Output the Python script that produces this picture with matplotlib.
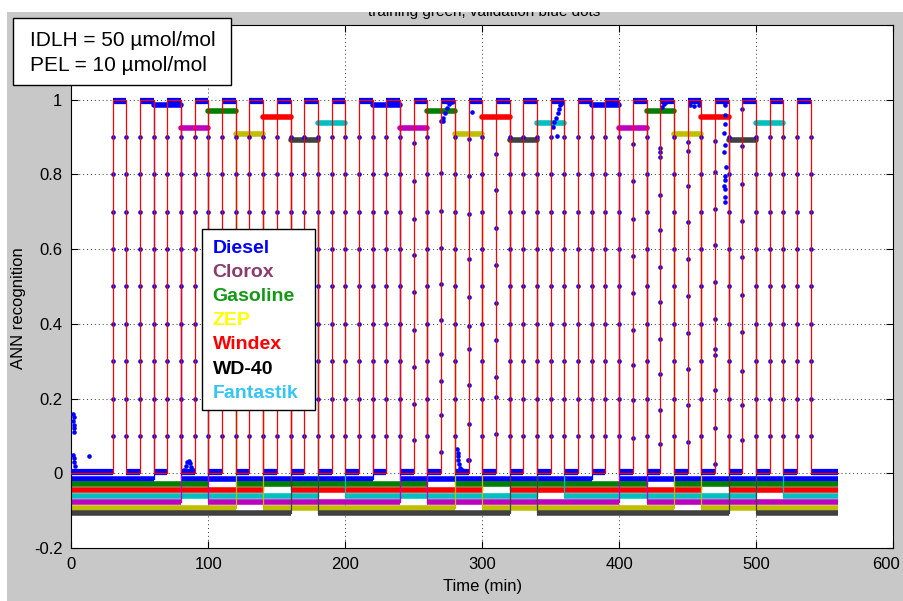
import matplotlib.pyplot as plt
from matplotlib.patches import Rectangle
from matplotlib.transforms import ScaledTranslation

plt.rcParams['font.family'] = ['Liberation Sans', 'DejaVu Sans']

# exposure pulses (min): target switches to 1 between start and end
pulse_start = [30, 50, 70, 90, 110, 130, 150, 170, 190, 210, 230, 250, 270,
               290, 310, 330, 350, 370, 390, 410, 430, 450, 470, 490, 510, 530]
pulse_end = [40, 60, 80, 100, 120, 140, 160, 180, 200, 220, 240, 260, 280,
             300, 320, 340, 360, 380, 400, 420, 440, 460, 480, 500, 520, 540]
t_end = 560

# analytes, legend colours, line colours, baseline offsets, windows where ANN says "present"
analytes = ['Diesel', 'Clorox', 'Gasoline', 'ZEP', 'Windex', 'WD-40', 'Fantastik']
label_colors = ['#0000ff', '#8b3a6e', '#139a13', '#ffff00', '#ff0000', '#000000', '#33c6f5']
line_colors = [(0, 0, 1), (0.75, 0, 0.75), (0, 0.5, 0), (0.75, 0.75, 0),
               (1, 0, 0), (0.25, 0.25, 0.25), (0, 0.75, 0.75)]
offsets = [-0.015, -0.076, -0.030, -0.092, -0.046, -0.107, -0.061]
draw_order = [0, 2, 4, 6, 1, 3, 5]
windows = [
    [(60, 80), (220, 240), (380, 400)],
    [(80, 100), (240, 260), (400, 420)],
    [(100, 120), (259.5, 280), (420, 440)],
    [(120, 140), (280, 300), (440, 460)],
    [(140, 160), (300, 320), (460, 480)],
    [(160, 180), (320, 340), (480, 500)],
    [(180, 200), (340, 360), (500, 520)],
]

# ANN recognition dots on the transitions
edge_levels = [0.1, 0.2, 0.3, 0.4, 0.5, 0.6, 0.7, 0.8, 0.9]
odd_columns = {
    250: [0.884, 0.783, 0.682, 0.584, 0.484, 0.384, 0.284, 0.186, 0.088],
    270: [0.942, 0.804, 0.702, 0.604, 0.508, 0.41, 0.32, 0.248, 0.155, 0.057],
    290: [0.895, 0.795, 0.695, 0.573, 0.471, 0.395, 0.333, 0.235, 0.133, 0.035],
    310: [0.854, 0.757, 0.657, 0.558, 0.457, 0.357, 0.257, 0.204, 0.106],
    410: [0.882, 0.783, 0.681, 0.581, 0.483, 0.384, 0.29, 0.195, 0.094],
    430: [0.872, 0.859, 0.846, 0.745, 0.65, 0.552, 0.458, 0.36, 0.267, 0.17, 0.079],
    450: [0.886, 0.864, 0.77, 0.672, 0.574, 0.474, 0.376, 0.28, 0.182, 0.084],
    470: [0.89, 0.806, 0.708, 0.61, 0.512, 0.414, 0.333, 0.316, 0.222, 0.12, 0.026],
    490: [0.975, 0.877, 0.775, 0.676, 0.578, 0.476, 0.378, 0.275, 0.182, 0.088],
}
# stray ANN points
stray_t = [1.0, 1.5, 1.0, 1.5, 2.0, 1.5, 1.0, 2.0, 1.5, 2.5, 13,
           82.5, 83.5, 84.5, 85.5, 86.5, 87.5, 88.5,
           281.5, 282, 282, 282.5, 283, 283.5, 285, 287, 289, 289.5,
           271, 271.5, 272.5, 274, 276, 278, 292.2,
           476.5, 477, 477.5, 477, 476.5, 477.5, 476.5, 478, 477.5, 477, 476.5, 477.5, 477, 477.5,
           431, 432.5, 434.5, 437,
           351.8, 352.5, 353.5, 354.3, 355, 356, 357, 358,
           452, 455, 458]
stray_y = [0.16, 0.15, 0.14, 0.13, 0.12, 0.11, 0.05, 0.04, 0.03, 0.02, 0.046,
           0.01, 0.02, 0.03, 0.032, 0.028, 0.018, 0.01,
           0.066, 0.055, 0.045, 0.035, 0.025, 0.015, 0.008, 0.006, 0.005, 0.035,
           0.95, 0.944, 0.965, 0.978, 0.988, 0.995, 0.967,
           0.995, 0.985, 0.96, 0.935, 0.91, 0.88, 0.86, 0.82, 0.795, 0.785, 0.77, 0.76, 0.74, 0.727,
           0.98, 0.988, 0.993, 0.996,
           0.926, 0.94, 0.95, 0.904, 0.965, 0.975, 0.985, 0.992,
           0.985, 0.982, 0.985]

x_ticks = [0, 100, 200, 300, 400, 500, 600]
y_ticks = [-0.2, 0, 0.2, 0.4, 0.6, 0.8, 1, 1.2]
y_ticklabels = ['-0.2', '0', '0.2', '0.4', '0.6', '0.8', '1', '']

W, H = 904, 601
fig = plt.figure(figsize=(W / 100, H / 100), dpi=100, facecolor='#c8c8c8')
ax = fig.add_axes([71.5 / W, 1 - 548 / H, (893 - 71.5) / W, (548 - 25) / H])

# analyte outputs
for i in draw_order:
    c = line_colors[i]
    o = offsets[i]
    prev = 0
    for (a, b) in windows[i]:
        ax.plot([prev, a], [o, o], color=c, lw=4, solid_capstyle='butt', zorder=2)
        ax.plot([a, b], [1 + o, 1 + o], color=c, lw=4, solid_capstyle='round', zorder=2)
        ax.plot([a, a], [o, 1 + o], color=c, lw=0.9, zorder=2)
        ax.plot([b, b], [o, 1 + o], color=c, lw=0.9, zorder=2)
        prev = b
    ax.plot([prev, t_end], [o, o], color=c, lw=4, solid_capstyle='butt', zorder=2)

# ANN plateaus (dense dots)
ax.hlines([0.997] * len(pulse_start), pulse_start, pulse_end, color='b', lw=4.5, zorder=3)
low_start = [0] + pulse_end
low_end = pulse_start + [t_end]
ax.hlines([0.003] * len(low_start), low_start, low_end, color='b', lw=4.5, zorder=3)

# ANN dots along transitions
dot_t, dot_y = [], []
for t in sorted(pulse_start + pulse_end):
    levels = odd_columns.get(t, edge_levels)
    dot_t += [t] * len(levels)
    dot_y += levels
ax.plot(dot_t, dot_y, 'o', color='b', ms=3.3, mew=0, zorder=4)
ax.plot(stray_t, stray_y, 'o', color='b', ms=3.3, mew=0, zorder=4)

# target (red square wave)
rx, ry = [0], [0]
for a, b in zip(pulse_start, pulse_end):
    rx += [a, a, b, b]
    ry += [0, 1, 1, 0]
rx.append(t_end)
ry.append(0)
ax.plot(rx, ry, color='r', lw=0.9, zorder=5)

ax.set_xlim(0, 600)
ax.set_ylim(-0.2, 1.2)
ax.set_xticks(x_ticks)
ax.set_yticks(y_ticks)
ax.set_yticklabels(y_ticklabels)
ax.tick_params(direction='in', length=5, top=True, right=True, labelsize=12, width=0.8, pad=6.5)
ax.grid(True, color='#333333', lw=0.7, linestyle=(0, (1, 3)), zorder=0)
ax.set_axisbelow(True)
for s in ax.spines.values():
    s.set_linewidth(0.8)
ax.set_xlabel('Time (min)', fontsize=12, labelpad=5)
ax.set_ylabel('ANN recognition', fontsize=12)
ax.yaxis.set_label_coords(-0.055, 0.459)

# keep the last x label inside the figure
last = ax.get_xticklabels()[-1]
last.set_transform(last.get_transform() + ScaledTranslation(-0.07, 0, fig.dpi_scale_trans))

# legend box with coloured names
fig.add_artist(Rectangle((202 / W, 1 - 409.5 / H), 113 / W, 180 / H, transform=fig.transFigure,
                         facecolor='white', edgecolor='black', lw=1, zorder=10))
for k, (name, col) in enumerate(zip(analytes, label_colors)):
    fig.text(212.5 / W, 1 - (248.5 + 24.1 * k) / H, name, color=col, fontsize=14,
             fontweight='bold', va='center', ha='left', zorder=11)

# exposure limits box
fig.add_artist(Rectangle((13.5 / W, 1 - 85 / H), 217.5 / W, 66.5 / H, transform=fig.transFigure,
                         facecolor='white', edgecolor='black', lw=1, zorder=10))
fig.text(30.5 / W, 1 - 40.5 / H, 'IDLH = 50 µmol/mol', fontsize=15, va='center', zorder=11)
fig.text(30.5 / W, 1 - 65.5 / H, 'PEL = 10 µmol/mol', fontsize=15, va='center', zorder=11)

# title, cut off by the top of the figure
fig.text(484 / W, 1 - 16 / H, 'training green, validation blue dots', fontsize=11,
         ha='center', va='baseline', zorder=9)
fig.add_artist(Rectangle((0, 1 - 12 / H), 1, 12 / H, transform=fig.transFigure,
                         facecolor='white', edgecolor='none', zorder=12))
fig.add_artist(Rectangle((0, 0), 7 / W, 1, transform=fig.transFigure,
                         facecolor='white', edgecolor='none', zorder=12))

fig.savefig('out.png', dpi=100, facecolor=fig.get_facecolor())
